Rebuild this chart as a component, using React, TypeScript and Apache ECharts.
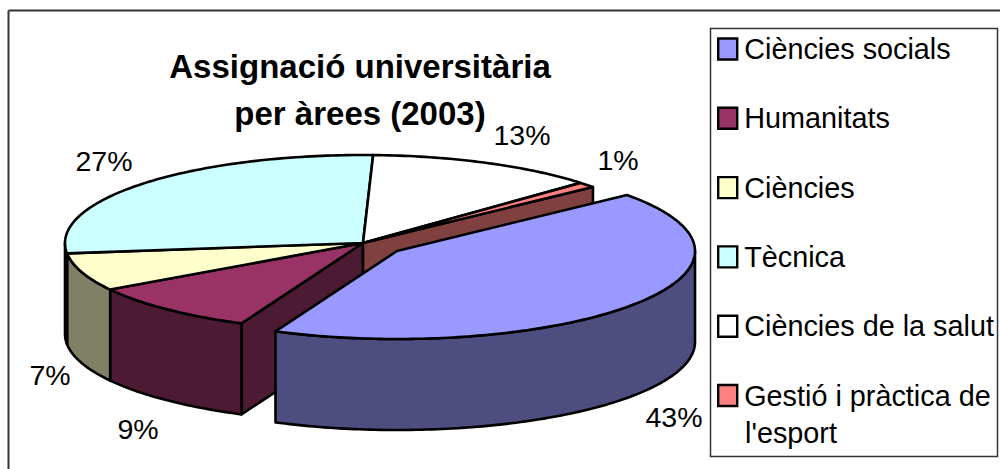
import React, { useEffect, useRef } from "react";
import * as echarts from "echarts";

const categories = ["Ciències socials", "Humanitats", "Ciències", "Tècnica", "Ciències de la salut", "Gestió i pràctica de l'esport"];
const values = [42.7, 9.45, 7, 27.45, 12.5, 1];
const colors = ["#9999FF", "#993366", "#FFFFCC", "#CCFFFF", "#FFFFFF", "#FF8080"];
const wallColors = ["#4D4D80", "#4D1A33", "#808066", "#668080", "#808080", "#804040"];
const explodedFlags = [true, false, false, false, false, false];
const titleText = "Assignació universitària\nper àrees (2003)";
const labelCentres = [[674, 417], [138, 429], [50, 375], [104, 161], [522, 135], [618, 160]];

const CX = 363, CY = 243, RX = 298, RY = 88, DEPTH = 91;
const START = 50.5, EX_DX = 34, EX_DY = 8;
const LINE = 2.6;
const total = values.reduce((a, b) => a + b, 0);

const rad = (d: number) => (d * Math.PI) / 180;
const rim = (t: number, ox: number, oy: number, down = 0) => [
  CX + ox + RX * Math.sin(rad(t)),
  CY + oy - RY * Math.cos(rad(t)) + down,
];
const arc = (a: number, b: number, ox: number, oy: number, down = 0) => {
  const pts: number[][] = [];
  const n = Math.max(1, Math.ceil(Math.abs(b - a)));
  for (let i = 0; i <= n; i++) pts.push(rim(a + ((b - a) * i) / n, ox, oy, down));
  return pts;
};

const sliceAngles = (i: number) => {
  let t = START;
  for (let k = 0; k < i; k++) t += (values[k] / total) * 360;
  return [t, t + (values[i] / total) * 360];
};

const renderSlice = (i: number) => () => {
  const [t0, t1] = sliceAngles(i);
  const ox = explodedFlags[i] ? EX_DX : 0;
  const oy = explodedFlags[i] ? EX_DY : 0;
  const n = values.length;
  const base = { stroke: "#000", lineWidth: LINE, lineJoin: "round" };
  const children: any[] = [];
  const c = [CX + ox, CY + oy];
  const radial = (t: number) => {
    const r = rim(t, ox, oy);
    return [c, r, [r[0], r[1] + DEPTH], [c[0], c[1] + DEPTH]];
  };
  if (explodedFlags[(i + n - 1) % n] && Math.sin(rad(t0)) < 0)
    children.push({ type: "polygon", shape: { points: radial(t0) }, style: { ...base, fill: wallColors[i] } });
  if (explodedFlags[(i + 1) % n] && Math.sin(rad(t1)) > 0)
    children.push({ type: "polygon", shape: { points: radial(t1) }, style: { ...base, fill: wallColors[i] } });
  for (const turn of [0, 360]) {
    const a = Math.max(t0, 90 + turn);
    const b = Math.min(t1, 270 + turn);
    if (b > a) {
      const pts = [...arc(a, b, ox, oy), ...arc(b, a, ox, oy, DEPTH)];
      children.push({ type: "polygon", shape: { points: pts }, style: { ...base, fill: wallColors[i] } });
    }
  }
  children.push({
    type: "polygon",
    shape: { points: [c, ...arc(t0, t1, ox, oy)] },
    style: { ...base, fill: colors[i] },
  });
  children.push({
    type: "text",
    x: labelCentres[i][0],
    y: labelCentres[i][1],
    style: {
      text: `${Math.round(values[i])}%`,
      font: "28.5px 'Liberation Sans'",
      fill: "#000",
      align: "center",
      verticalAlign: "middle",
    },
  });
  return { type: "group", children };
};

export default function App() {
  const ref = useRef<HTMLDivElement>(null);
  useEffect(() => {
    const chart = echarts.init(ref.current!, null, { renderer: "svg" });
    chart.setOption({
      animation: false,
      backgroundColor: "#fff",
      title: {
        text: titleText,
        left: 355,
        top: 38,
        textAlign: "center",
        textStyle: { fontFamily: "Liberation Sans", fontSize: 33, fontWeight: "bold", lineHeight: 47, color: "#000" },
      },
      legend: {
        orient: "vertical",
        left: 717,
        top: 34,
        padding: 0,
        itemWidth: 19,
        itemHeight: 21,
        itemGap: 39.3,
        icon: "rect",
        selectedMode: false,
        data: categories,
        formatter: (name: string) => name.replace(" l'esport", ""),
        itemStyle: { borderColor: "#000", borderWidth: 2.4 },
        textStyle: { fontFamily: "Liberation Sans", fontSize: 28.8, lineHeight: 30, color: "#000", padding: [0, 0, 0, 2] },
      },
      graphic: [
        { type: "line", shape: { x1: 8.5, y1: 10.5, x2: 1000, y2: 10.5 }, style: { stroke: "#333", lineWidth: 2 } },
        { type: "line", shape: { x1: 8.5, y1: 10.5, x2: 8.5, y2: 469 }, style: { stroke: "#333", lineWidth: 2 } },
        { type: "rect", shape: { x: 710.5, y: 28.5, width: 287, height: 428 }, style: { fill: "none", stroke: "#333", lineWidth: 1.5 } },
        { type: "text", x: 745, y: 433, style: { text: "l'esport", font: "28.8px 'Liberation Sans'", fill: "#000", verticalAlign: "middle" } },
      ],
      series: categories.map((name, i) => ({
        type: "custom",
        name,
        coordinateSystem: "none",
        z: explodedFlags[i] ? 4 : 3,
        silent: true,
        itemStyle: { color: colors[i] },
        data: [[values[i]]],
        renderItem: renderSlice(i),
      })),
    });
    return () => chart.dispose();
  }, []);
  return <div ref={ref} style={{ position: "absolute", left: 0, top: 0, width: 1000, height: 469 }} />;
}
